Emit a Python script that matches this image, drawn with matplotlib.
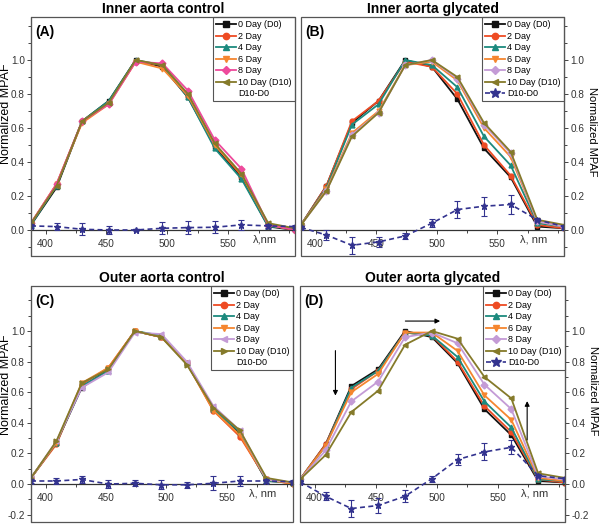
import matplotlib
matplotlib.use('Agg')
import matplotlib.pyplot as plt
from matplotlib.lines import Line2D
from matplotlib.patches import Rectangle
from matplotlib.ticker import MultipleLocator

plt.rcParams['font.family'] = ['Liberation Sans', 'DejaVu Sans']

# wavelengths (nm)
wl = [388, 409, 430, 452, 474, 496, 517, 539, 561, 583, 605]
day_labels = ['0 Day (D0)', '2 Day', '4 Day', '6 Day', '8 Day', '10 Day (D10)']

# (A) inner aorta control
a_d0 = [0.03, 0.25, 0.64, 0.76, 1.00, 0.96, 0.78, 0.49, 0.31, 0.02, 0.00]
a_d2 = [0.04, 0.27, 0.64, 0.75, 0.99, 0.97, 0.79, 0.50, 0.32, 0.03, 0.00]
a_d4 = [0.03, 0.26, 0.64, 0.76, 1.00, 0.97, 0.78, 0.48, 0.30, 0.02, 0.01]
a_d6 = [0.04, 0.27, 0.63, 0.74, 0.99, 0.95, 0.79, 0.50, 0.33, 0.03, 0.00]
a_d8 = [0.04, 0.27, 0.64, 0.74, 0.99, 0.98, 0.82, 0.53, 0.36, 0.03, 0.00]
a_d10 = [0.04, 0.26, 0.64, 0.75, 1.00, 0.97, 0.80, 0.51, 0.33, 0.04, 0.01]
a_diff = [0.024, 0.02, 0.004, 0.0, 0.0, 0.01, 0.014, 0.016, 0.03, 0.024, 0.02]
a_err = [0.01, 0.02, 0.035, 0.025, 0.005, 0.035, 0.04, 0.035, 0.03, 0.01, 0.01]

# (B) inner aorta glycated
b_d0 = [0.03, 0.26, 0.63, 0.76, 1.00, 0.96, 0.77, 0.48, 0.31, 0.02, 0.01]
b_d2 = [0.03, 0.26, 0.64, 0.76, 0.99, 0.96, 0.80, 0.50, 0.32, 0.03, 0.01]
b_d4 = [0.03, 0.25, 0.62, 0.74, 1.00, 0.97, 0.84, 0.55, 0.38, 0.04, 0.02]
b_d6 = [0.03, 0.24, 0.57, 0.70, 0.97, 0.99, 0.88, 0.60, 0.43, 0.05, 0.02]
b_d8 = [0.03, 0.23, 0.56, 0.69, 0.97, 1.00, 0.89, 0.62, 0.45, 0.05, 0.02]
b_d10 = [0.03, 0.23, 0.55, 0.69, 0.97, 1.00, 0.90, 0.63, 0.46, 0.06, 0.03]
b_diff = [0.015, -0.03, -0.09, -0.07, -0.035, 0.04, 0.12, 0.14, 0.15, 0.06, 0.02]
b_err = [0.01, 0.03, 0.05, 0.03, 0.02, 0.025, 0.05, 0.055, 0.055, 0.01, 0.01]

# (C) outer aorta control
c_d0 = [0.04, 0.27, 0.63, 0.75, 1.00, 0.96, 0.79, 0.50, 0.33, 0.02, 0.01]
c_d2 = [0.04, 0.26, 0.65, 0.76, 1.00, 0.96, 0.79, 0.48, 0.31, 0.03, 0.00]
c_d4 = [0.04, 0.27, 0.64, 0.74, 1.00, 0.97, 0.79, 0.49, 0.34, 0.02, 0.01]
c_d6 = [0.04, 0.27, 0.66, 0.76, 1.00, 0.96, 0.79, 0.48, 0.32, 0.03, 0.00]
c_d8 = [0.04, 0.28, 0.63, 0.73, 0.99, 0.98, 0.80, 0.51, 0.35, 0.03, 0.01]
c_d10 = [0.04, 0.28, 0.66, 0.75, 1.00, 0.96, 0.78, 0.50, 0.35, 0.04, 0.01]
c_diff = [0.02, 0.02, 0.03, 0.0, 0.005, -0.005, -0.005, 0.005, 0.02, 0.02, 0.015]
c_err = [0.01, 0.02, 0.025, 0.025, 0.02, 0.03, 0.02, 0.045, 0.035, 0.01, 0.01]

# (D) outer aorta glycated
d_d0 = [0.03, 0.26, 0.64, 0.75, 1.00, 0.96, 0.79, 0.49, 0.32, 0.02, 0.01]
d_d2 = [0.03, 0.26, 0.62, 0.74, 0.99, 0.97, 0.80, 0.51, 0.34, 0.03, 0.01]
d_d4 = [0.03, 0.25, 0.63, 0.74, 0.99, 0.97, 0.83, 0.54, 0.37, 0.03, 0.02]
d_d6 = [0.03, 0.25, 0.60, 0.72, 0.99, 0.99, 0.87, 0.58, 0.42, 0.04, 0.02]
d_d8 = [0.03, 0.22, 0.54, 0.67, 0.96, 0.99, 0.92, 0.65, 0.49, 0.05, 0.03]
d_d10 = [0.03, 0.19, 0.47, 0.61, 0.91, 1.00, 0.95, 0.70, 0.56, 0.07, 0.04]
d_diff = [0.015, -0.08, -0.16, -0.14, -0.08, 0.035, 0.16, 0.21, 0.24, 0.055, 0.035]
d_err = [0.01, 0.025, 0.055, 0.05, 0.04, 0.02, 0.035, 0.055, 0.045, 0.01, 0.01]

BLACK = '#111111'
RED = '#EE4B23'
TEAL = '#1C8A7E'
ORANGE = '#F5862F'
PINK = '#EE4A9C'
LAVENDER = '#C49BD6'
OLIVE = '#857A2A'
NAVY = '#33338F'
FRAME = '#555555'

fig = plt.figure(figsize=(6, 5.25), dpi=100)


def panel(rect, title, tag, curves, diff, err, ylim, yticks, right,
          eight_color, eight_marker, ten_marker, diff_handle, xlab, ylab_y):
    ax = fig.add_axes(rect)
    colors = [BLACK, RED, TEAL, ORANGE, eight_color, OLIVE]
    markers = ['s', 'o', '^', 'v', eight_marker, ten_marker]
    handles = []
    for ys, c, m, lab in zip(curves, colors, markers, day_labels):
        ln, = ax.plot(wl, ys, color=c, marker=m, ms=3.5, lw=1.3, label=lab)
        handles.append(ln)
    ax.errorbar(wl, diff, yerr=err, fmt='*', ls=(0, (3, 2)), color=NAVY,
                ms=4.5, lw=1.2, capsize=2, elinewidth=0.8, capthick=0.8, zorder=5)
    if diff_handle:
        handles.append(Line2D([], [], color=NAVY, marker='*', ms=6, lw=1.2,
                              ls=(0, (3, 2)), label='D10-D0'))
    else:
        handles.append(Line2D([], [], color='none', label='D10-D0'))

    ax.set_xlim(388, 605)
    ax.set_ylim(*ylim)
    ax.set_yticks(yticks)
    ax.set_xticks([400, 450, 500, 550])
    ax.xaxis.set_minor_locator(MultipleLocator(25))
    ax.yaxis.set_minor_locator(MultipleLocator(0.1))

    ax.spines['top'].set_visible(False)
    ax.spines['bottom'].set_position(('data', 0))
    ax.spines['bottom'].set_color('#333333')
    ax.spines['bottom'].set_linewidth(0.9)
    if right:
        ax.spines['left'].set_visible(False)
        ax.spines['right'].set_color(FRAME)
        ax.yaxis.set_ticks_position('right')
        ax.yaxis.set_label_position('right')
        ax.set_ylabel('Normalized MPAF', fontsize=8, rotation=270)
        ax.yaxis.set_label_coords(1.125, ylab_y)
    else:
        ax.spines['right'].set_visible(False)
        ax.spines['left'].set_color(FRAME)
        ax.set_ylabel('Normalized MPAF', fontsize=9)
        ax.yaxis.set_label_coords(-0.072, ylab_y)
    ax.tick_params(which='both', direction='out', colors='#444444', labelsize=7.2,
                   width=0.7, labelcolor='#333333')
    ax.tick_params(which='major', length=3)
    ax.tick_params(which='minor', length=2)
    ax.tick_params(axis='y', pad=1.5)
    ax.yaxis.set_major_formatter(matplotlib.ticker.FormatStrFormatter('%.1f'))

    ax.add_patch(Rectangle((0, 0), 1, 1, transform=ax.transAxes, fill=False,
                           edgecolor=FRAME, lw=0.9, clip_on=False, zorder=10))
    ax.annotate(xlab, (580, 0), xytext=(0, -3), textcoords='offset points',
                ha='center', va='top', fontsize=8, color='#333333')
    ax.text(0.015, 0.965, tag, transform=ax.transAxes, ha='left', va='top',
            fontsize=10, fontweight='bold')
    ax.set_title(title, fontsize=10, fontweight='bold', pad=3)

    leg = ax.legend(handles=handles, loc='upper right', fontsize=6.5,
                    fancybox=False, edgecolor=FRAME, framealpha=1,
                    borderaxespad=0.05, handlelength=2.2, labelspacing=0.28,
                    borderpad=0.3, handletextpad=0.3, markerscale=1.3)
    leg.get_frame().set_linewidth(0.8)
    return ax


panel([0.0517, 0.5124, 0.44, 0.4552], 'Inner aorta control', '(A)',
      [a_d0, a_d2, a_d4, a_d6, a_d8, a_d10], a_diff, a_err,
      (-0.153, 1.253), [0.0, 0.2, 0.4, 0.6, 0.8, 1.0], False,
      PINK, 'D', '<', False, 'λ,nm', 0.594)
panel([0.5017, 0.5124, 0.4383, 0.4552], 'Inner aorta glycated', '(B)',
      [b_d0, b_d2, b_d4, b_d6, b_d8, b_d10], b_diff, b_err,
      (-0.153, 1.253), [0.0, 0.2, 0.4, 0.6, 0.8, 1.0], True,
      LAVENDER, 'D', '<', True, 'λ, nm', 0.52)
panel([0.0517, 0.0057, 0.4367, 0.4495], 'Outer aorta control', '(C)',
      [c_d0, c_d2, c_d4, c_d6, c_d8, c_d10], c_diff, c_err,
      (-0.248, 1.294), [-0.2, 0.0, 0.2, 0.4, 0.6, 0.8, 1.0], False,
      LAVENDER, '<', '>', False, 'λ, nm', 0.58)
axd = panel([0.5, 0.0057, 0.4417, 0.4495], 'Outer aorta glycated', '(D)',
            [d_d0, d_d2, d_d4, d_d6, d_d8, d_d10], d_diff, d_err,
            (-0.248, 1.294), [-0.2, 0.0, 0.2, 0.4, 0.6, 0.8, 1.0], True,
            LAVENDER, 'D', '<', True, 'λ, nm', 0.555)

# trend arrows in panel D
arrow = dict(arrowstyle='-|>', color='black', lw=0.8, mutation_scale=7)
axd.annotate('', xy=(417, 0.56), xytext=(417, 0.89), arrowprops=arrow)
axd.annotate('', xy=(505, 1.065), xytext=(472, 1.065), arrowprops=arrow)
axd.annotate('', xy=(574, 0.56), xytext=(574, 0.27), arrowprops=arrow)

fig.savefig('out.png', dpi=100)
